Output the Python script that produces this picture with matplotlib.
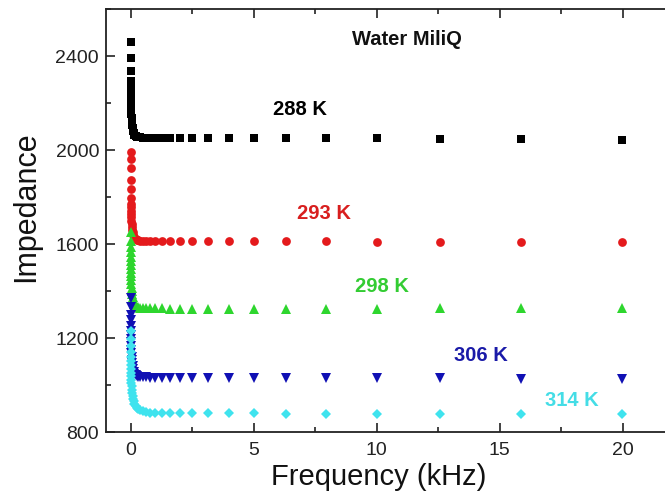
import matplotlib
matplotlib.use('Agg')
import matplotlib.pyplot as plt
from matplotlib.ticker import MultipleLocator

plt.rcParams['font.family'] = ['Liberation Sans', 'DejaVu Sans']

# Frekuensi (kHz), sama untuk semua suhu
freq = [19.953, 15.849, 12.589, 10.0, 7.943, 6.310, 5.012, 3.981, 3.162, 2.512,
        1.995, 1.585, 1.259, 1.0, 0.794, 0.631, 0.501, 0.398, 0.316, 0.251,
        0.200, 0.158, 0.126, 0.100, 0.079, 0.063, 0.050, 0.040, 0.032, 0.025,
        0.020, 0.016, 0.013, 0.010, 0.008, 0.006, 0.005, 0.004, 0.003, 0.0025]

# Impedansi per suhu
z_288 = [2045, 2047, 2049, 2050, 2050, 2051, 2051, 2051, 2051, 2051,
         2051, 2051, 2052, 2052, 2052, 2053, 2053, 2054, 2055, 2057,
         2060, 2065, 2072, 2080, 2092, 2105, 2120, 2138, 2155, 2172,
         2190, 2208, 2225, 2242, 2258, 2272, 2293, 2336, 2392, 2460]
z_293 = [1609, 1610, 1610, 1610, 1611, 1611, 1611, 1611, 1611, 1612,
         1612, 1612, 1612, 1613, 1613, 1614, 1614, 1615, 1617, 1619,
         1622, 1626, 1632, 1640, 1650, 1661, 1673, 1686, 1700, 1714,
         1728, 1742, 1756, 1771, 1797, 1836, 1874, 1925, 1960, 1990]
z_298 = [1328, 1327, 1326, 1325, 1325, 1325, 1325, 1325, 1325, 1325,
         1325, 1325, 1326, 1326, 1326, 1327, 1327, 1328, 1330, 1333,
         1337, 1343, 1351, 1361, 1373, 1386, 1400, 1415, 1430, 1446,
         1462, 1478, 1494, 1510, 1527, 1545, 1565, 1588, 1615, 1650]
z_306 = [1025, 1027, 1028, 1029, 1030, 1030, 1030, 1031, 1031, 1031,
         1031, 1031, 1032, 1032, 1032, 1033, 1033, 1034, 1036, 1039,
         1043, 1049, 1057, 1067, 1079, 1092, 1106, 1120, 1135, 1150,
         1166, 1182, 1198, 1214, 1232, 1252, 1275, 1300, 1333, 1372]
z_314 = [877, 878, 878, 878, 878, 878, 879, 879, 879, 879,
         880, 880, 881, 882, 883, 885, 888, 892, 897, 904,
         912, 921, 931, 942, 954, 967, 980, 994, 1008, 1022,
         1037, 1052, 1068, 1084, 1101, 1120, 1142, 1168, 1197, 1230]

series = [
    (z_288, 's', 5.8, '#000000'),
    (z_293, 'o', 6.3, '#e41a1c'),
    (z_298, '^', 7, '#2ed62e'),
    (z_306, 'v', 7, '#1010b4'),
    (z_314, 'D', 5.5, '#3fe3ee'),
]

# Label suhu: teks, posisi x, posisi y, warna
labels = ['288 K', '293 K', '298 K', '306 K', '314 K']
label_x = [6.9, 7.85, 10.2, 14.23, 17.95]
label_y = [2172, 1728, 1419, 1125, 935]
label_color = ['#000000', '#d81e1e', '#33cc33', '#1a1aa8', '#44dde6']

fig = plt.figure(figsize=(6.65, 4.94), dpi=100)
# sisi kanan terpotong seperti gambar aslinya
ax = fig.add_axes([0.1594, 0.1255, 0.8406, 0.856])

for z, mk, ms, col in series:
    ax.plot(freq, z, linestyle='none', marker=mk, markersize=ms,
            color=col, markeredgewidth=0)

for txt, x, y, c in zip(labels, label_x, label_y, label_color):
    ax.text(x, y, txt, color=c, fontsize=14.5, fontweight='bold',
            ha='center', va='center')

ax.text(11.22, 2470, 'Water MiliQ', fontsize=14.5, fontweight='bold',
        ha='center', va='center', color='#111111')

ax.set_xlim(-1, 21.72)
ax.set_ylim(800, 2600)
ax.xaxis.set_major_locator(MultipleLocator(5))
ax.xaxis.set_minor_locator(MultipleLocator(2.5))
ax.yaxis.set_major_locator(MultipleLocator(400))
ax.yaxis.set_minor_locator(MultipleLocator(200))

ax.tick_params(which='both', direction='in', top=True, right=False,
               colors='#222222', width=1.2)
ax.tick_params(which='major', length=6.5, labelsize=14, pad=5)
ax.tick_params(axis='x', which='major', pad=7)
ax.tick_params(which='minor', length=3.5)
for s in ax.spines.values():
    s.set_linewidth(1.3)
    s.set_color('#222222')
ax.spines['right'].set_visible(False)

ax.set_xlabel('Frequency (kHz)', fontsize=21, color='#111111')
ax.set_ylabel('Impedance', fontsize=22, color='#111111')
ax.xaxis.label.set_va('center')
ax.yaxis.label.set_va('center')
ax.xaxis.set_label_coords(0.488, -0.106)
ax.yaxis.set_label_coords(-0.143, 0.532)

fig.savefig('out.png', dpi=100)
